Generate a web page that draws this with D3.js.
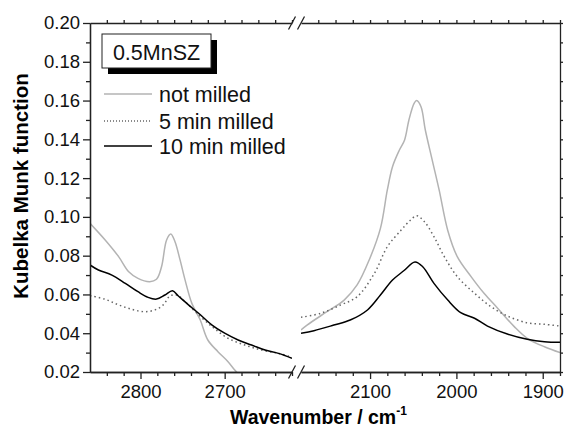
<!DOCTYPE html>
<html>
<head>
<meta charset="utf-8">
<script src="https://cdn.jsdelivr.net/npm/d3@7"></script>
<style>
  body { margin: 0; background: #fff; }
  svg { font-family: "Liberation Sans", Arial, sans-serif; }
</style>
</head>
<body>
<svg id="chart" width="564" height="432"></svg>
<script>
// data: [wavenumber, Kubelka-Munk]
const notMilledLeft = [[2860,0.0967],[2842,0.0881],[2826,0.0795],[2814,0.0717],[2803,0.0683],[2789,0.0666],[2781,0.0678],[2775,0.0743],[2769,0.0881],[2764,0.0912],[2759,0.0872],[2753,0.0778],[2747,0.0674],[2739,0.0554],[2729,0.0468],[2720,0.0365],[2708,0.0305],[2696,0.0253],[2688,0.021],[2680,0.017]];
const fiveMinLeft = [[2860,0.0594],[2842,0.0575],[2826,0.0546],[2810,0.0523],[2795,0.0511],[2783,0.052],[2773,0.0546],[2765,0.0592],[2757,0.0597],[2747,0.0563],[2735,0.0511],[2715,0.0434],[2696,0.0374],[2676,0.0339],[2656,0.0313],[2636,0.0296],[2622,0.0279]];
const tenMinLeft = [[2860,0.0752],[2850,0.0726],[2834,0.0700],[2818,0.0657],[2803,0.0614],[2791,0.0585],[2781,0.0576],[2771,0.0597],[2762,0.0619],[2755,0.0592],[2743,0.0546],[2731,0.0503],[2715,0.0442],[2700,0.0400],[2684,0.0365],[2668,0.0339],[2652,0.0313],[2636,0.0296],[2620,0.0271]];

const notMilledRight = [[2180,0.0417],[2173,0.0442],[2150,0.0511],[2130,0.0571],[2115,0.0649],[2101,0.0778],[2088,0.0941],[2080,0.1139],[2074,0.1259],[2066,0.1345],[2060,0.1397],[2055,0.150],[2049,0.1586],[2046,0.160],[2041,0.1568],[2036,0.1448],[2028,0.1293],[2020,0.1139],[2010,0.0930],[1999,0.0795],[1983,0.0692],[1968,0.0606],[1952,0.0528],[1933,0.0434],[1918,0.0374],[1898,0.033],[1880,0.030]];
const fiveMinRight = [[2180,0.0482],[2157,0.0503],[2134,0.0546],[2115,0.0588],[2095,0.0709],[2080,0.0846],[2064,0.0932],[2053,0.0984],[2046,0.1006],[2037,0.0975],[2026,0.0898],[2014,0.0795],[1999,0.0692],[1979,0.0606],[1960,0.0537],[1941,0.0489],[1918,0.0454],[1898,0.0446],[1880,0.0437]];
const tenMinRight = [[2180,0.0400],[2165,0.0413],[2142,0.0442],[2123,0.0468],[2103,0.0520],[2088,0.0597],[2074,0.0674],[2061,0.0722],[2048,0.0767],[2039,0.0743],[2026,0.0657],[2010,0.0571],[1995,0.0506],[1979,0.0477],[1964,0.0437],[1941,0.0396],[1918,0.0369],[1898,0.0356],[1880,0.0353]];

const leftDomain = [2860, 2620];
const rightDomain = [2180, 1880];
const leftTicks = [2800, 2700];
const rightTicks = [2100, 2000, 1900];
const yTicks = [0.02, 0.04, 0.06, 0.08, 0.10, 0.12, 0.14, 0.16, 0.18, 0.20];
const legendLabels = ["not milled", "5 min milled", "10 min milled"];
const sampleName = "0.5MnSZ";

const svg = d3.select("#chart");
const plotTop = 23, plotBottom = 372, plotLeft = 90, plotRight = 560;
const breakL = 292, breakR = 301;

const y = d3.scaleLinear().domain([0.02, 0.20]).range([plotBottom, plotTop]);
const xL = d3.scaleLinear().domain(leftDomain).range([plotLeft, breakL]);
const xR = d3.scaleLinear().domain(rightDomain).range([breakR, plotRight]);

const styles = [
  { stroke: "#b3b3b3", dash: null },
  { stroke: "#666", dash: "1.5,3" },
  { stroke: "#000", dash: null }
];

const defs = svg.append("defs");
defs.append("clipPath").attr("id", "clipL")
  .append("rect").attr("x", plotLeft).attr("y", plotTop).attr("width", breakL - plotLeft).attr("height", plotBottom - plotTop);
defs.append("clipPath").attr("id", "clipR")
  .append("rect").attr("x", breakR).attr("y", plotTop).attr("width", plotRight - breakR).attr("height", plotBottom - plotTop);

function drawSeries(data, xs, st, clip) {
  const line = d3.line().x(d => xs(d[0])).y(d => y(d[1])).curve(d3.curveCatmullRom.alpha(0.5));
  svg.append("path")
    .attr("d", line(data))
    .attr("fill", "none")
    .attr("stroke", st.stroke)
    .attr("stroke-width", 1.5)
    .attr("stroke-dasharray", st.dash)
    .attr("clip-path", `url(#${clip})`);
}

[notMilledLeft, fiveMinLeft, tenMinLeft].forEach((s, i) => drawSeries(s, xL, styles[i], "clipL"));
[notMilledRight, fiveMinRight, tenMinRight].forEach((s, i) => drawSeries(s, xR, styles[i], "clipR"));

function styleAxis(g) {
  g.selectAll("path, line").attr("stroke", "#222").attr("stroke-width", 1.3);
  g.selectAll("text").attr("fill", "#111").attr("font-size", 18.5);
}

// minor tick values
const yMinor = d3.range(0.03, 0.20, 0.02);
const leftMinor = d3.range(2840, 2619, -20).filter(v => !leftTicks.includes(v));
const rightMinor = d3.range(2160, 1879, -20).filter(v => !rightTicks.includes(v));

// left axis
svg.append("g").attr("transform", `translate(${plotLeft},0)`)
  .call(d3.axisLeft(y).tickValues(yTicks).tickFormat(d3.format(".2f")).tickSize(7).tickSizeOuter(0).tickPadding(3))
  .call(styleAxis);
svg.append("g").attr("transform", `translate(${plotLeft},0)`)
  .call(d3.axisLeft(y).tickValues(yMinor).tickFormat("").tickSize(4).tickSizeOuter(0))
  .call(styleAxis);

// right axis
svg.append("g").attr("transform", `translate(${plotRight},0)`)
  .call(d3.axisRight(y).tickValues(yTicks.concat(yMinor)).tickFormat("").tickSize(3).tickSizeOuter(0))
  .call(styleAxis);

// bottom and top axes, two segments each
[[xL, leftTicks, leftMinor], [xR, rightTicks, rightMinor]].forEach(([xs, major, minor]) => {
  svg.append("g").attr("transform", `translate(0,${plotBottom})`)
    .call(d3.axisBottom(xs).tickValues(major).tickFormat(d3.format("d")).tickSize(7).tickSizeOuter(0).tickPadding(6))
    .call(styleAxis);
  svg.append("g").attr("transform", `translate(0,${plotBottom})`)
    .call(d3.axisBottom(xs).tickValues(minor).tickFormat("").tickSize(4).tickSizeOuter(0))
    .call(styleAxis);
  svg.append("g").attr("transform", `translate(0,${plotTop})`)
    .call(d3.axisTop(xs).tickValues(major.concat(minor)).tickFormat("").tickSize(3).tickSizeOuter(0))
    .call(styleAxis);
});

// break marks
[plotTop, plotBottom].forEach(yy => {
  [breakL, breakR].forEach(xx => {
    svg.append("line")
      .attr("x1", xx - 3.5).attr("y1", yy + 6.5)
      .attr("x2", xx + 3.5).attr("y2", yy - 6.5)
      .attr("stroke", "#222").attr("stroke-width", 1.3);
  });
});

// axis titles
svg.append("text")
  .attr("transform", `translate(28,186) rotate(-90)`)
  .attr("text-anchor", "middle")
  .attr("font-size", 20.5).attr("font-weight", "bold")
  .text("Kubelka Munk function");

const xt = svg.append("text")
  .attr("x", 230).attr("y", 424)
  .attr("font-size", 19.5).attr("font-weight", "bold");
xt.append("tspan").text("Wavenumber / cm");
xt.append("tspan").attr("dy", -9).attr("font-size", 12).text("-1");

// sample label box with shadow
svg.append("rect").attr("x", 108).attr("y", 40).attr("width", 109).attr("height", 34).attr("fill", "#000");
svg.append("rect").attr("x", 102).attr("y", 34).attr("width", 109).attr("height", 34)
  .attr("fill", "#fff").attr("stroke", "#222").attr("stroke-width", 1);
svg.append("text").attr("x", 156.5).attr("y", 60).attr("text-anchor", "middle")
  .attr("font-size", 21.5).attr("fill", "#111").text(sampleName);

// legend
const legendY = [94, 121, 146];
legendLabels.forEach((lab, i) => {
  const ly = legendY[i];
  svg.append("line")
    .attr("x1", 104).attr("x2", 152).attr("y1", ly).attr("y2", ly)
    .attr("stroke", styles[i].stroke).attr("stroke-width", i === 2 ? 1.5 : 1.3)
    .attr("stroke-dasharray", i === 1 ? "1,2" : null);
  svg.append("text").attr("x", 159).attr("y", ly + 8)
    .attr("font-size", 21.5).attr("fill", "#111").text(lab);
});
</script>
</body>
</html>
